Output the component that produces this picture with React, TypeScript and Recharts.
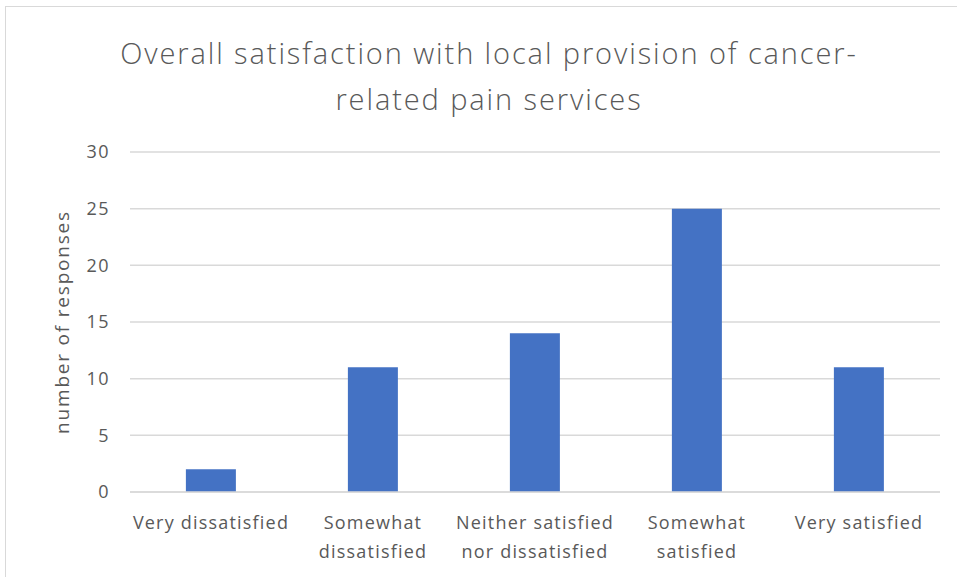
import React from "react";
import { BarChart, Bar, XAxis, YAxis, CartesianGrid, Label } from "recharts";

const categories = [
  "Very dissatisfied",
  "Somewhat\ndissatisfied",
  "Neither satisfied\nnor dissatisfied",
  "Somewhat\nsatisfied",
  "Very satisfied",
];
const responses = [2, 11, 14, 25, 11];
const yTicks = [0, 5, 10, 15, 20, 25, 30];
const titleLines = ["Overall satisfaction with local provision of cancer-", "related pain services"];

const data = categories.map((c, i) => ({ category: c, value: responses[i] }));

const FONT = "'Open Sans', sans-serif";
const GRAY = "#595959";

const XTick = (props: any) => {
  const { x, y, payload } = props;
  const lines = String(payload.value).split("\n");
  return (
    <g transform={`translate(${x},${y})`}>
      {lines.map((l: string, i: number) => (
        <text key={i} x={0} y={i * 29} dy={29} textAnchor="middle" fill={GRAY} fontSize={18} letterSpacing={1.2} fontFamily={FONT}>
          {l}
        </text>
      ))}
    </g>
  );
};

export default function App() {
  return (
    <div style={{ position: "absolute", left: 0, top: 0, width: 957, height: 577, overflow: "hidden", background: "#fff" }}>
      <div style={{ position: "absolute", left: 5, top: 6, width: 970, height: 600, border: "1.5px solid #d9d9d9", boxSizing: "border-box" }} />
      <div style={{ position: "absolute", left: 0, top: 30, width: 978, textAlign: "center", fontFamily: FONT, fontSize: 29, letterSpacing: 1.9, color: GRAY, lineHeight: "46px", fontWeight: 300 }}>
        {titleLines.map((t, i) => (
          <div key={i}>{t}</div>
        ))}
      </div>
      <div style={{ position: "absolute", left: 0, top: 0 }}>
        <BarChart width={957} height={577} data={data} margin={{ top: 152, right: 17, bottom: 15, left: 0 }} barCategoryGap="34.5%">
          <CartesianGrid vertical={false} stroke="#d9d9d9" strokeWidth={1.5} />
          <XAxis dataKey="category" tickLine={false} axisLine={{ stroke: "#d9d9d9", strokeWidth: 1.5 }} height={70} tick={<XTick />} interval={0} />
          <YAxis
            width={130}
            domain={[0, 30]}
            ticks={yTicks}
            tickLine={false}
            axisLine={false}
            tickSize={0}
            tickMargin={20}
            tick={{ fill: GRAY, fontSize: 18, fontFamily: FONT, letterSpacing: 1.5 }}
          >
            <Label value="number of responses" angle={-90} position="insideLeft" offset={0} dx={62} style={{ fill: GRAY, fontSize: 19, letterSpacing: 1.8, fontFamily: FONT, textAnchor: "middle" }} />
          </YAxis>
          <Bar dataKey="value" fill="#4472C4" isAnimationActive={false} />
        </BarChart>
      </div>
    </div>
  );
}
